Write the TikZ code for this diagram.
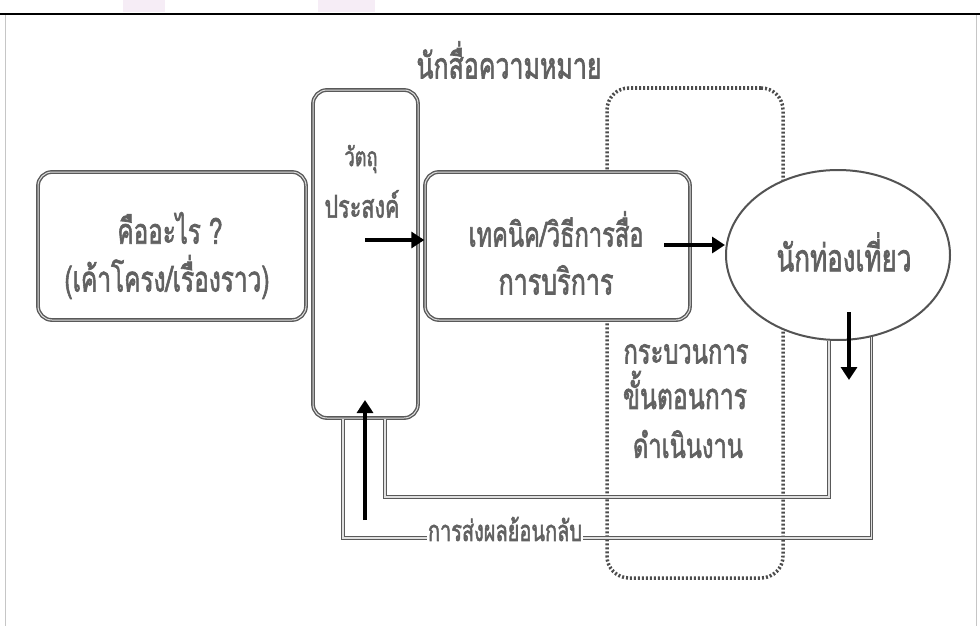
\documentclass[tikz,border=0pt]{standalone}
\usepackage{graphicx}
\usepackage{fontspec}
\newfontfamily\thai[Script=Thai,FakeBold=2.2]{Loma}
\usetikzlibrary{shapes.geometric,arrows.meta,calc}
\newcommand{\tx}[2]{\scalebox{1}[1.45]{\resizebox{#1pt}{!}{#2}}}
\begin{document}
\begin{tikzpicture}[x=1pt,y=-1pt,
  box/.style={draw=gray!70!black, line width=1.4pt, double=gray!25, double distance=1pt, rounded corners=14pt},
  txt/.style={font=\thai\fontsize{20}{20}\selectfont, text=black!62, align=center, inner sep=0pt},
  fb/.style={draw=gray!70!black, line width=1.1pt, double=gray!25, double distance=1.2pt},
  arr/.style={line width=4.5pt, black, -{Triangle[length=13pt,width=16pt]}},
  dotbox/.style={draw=gray!60!black, line width=3.5pt, dash pattern=on 2pt off 2pt, rounded corners=22pt}]
\useasboundingbox (0,0) rectangle (980,626);
% watermark blobs and frame
\fill[violet!7] (123,0) rectangle (165,12);
\fill[violet!7] (318,0) rectangle (375,12);
\draw[gray!45, line width=1pt] (5,14) rectangle (976,630);
\draw[black, line width=2.5pt] (0,14) -- (980,14);
% title
\node[txt] (title) at (509,60) {\tx{185}{นักสื่อความหมาย}};
% process (dotted) box
\node[dotbox, minimum width=176, minimum height=490] (proc) at (695,333) {};
\node[txt] (p1) at (686,354) {\tx{125}{กระบวนการ}};
\node[txt] (p2) at (685,390) {\tx{124}{ขั้นตอนการ}};
\node[txt] (p3) at (688,444) {\tx{110}{ดำเนินงาน}};
% boxes
\node[box, minimum width=268, minimum height=148] (what) at (172,246) {};
\node[txt] (w1) at (170,228) {\tx{105}{คืออะไร ?}};
\node[txt] (w2) at (167,277) {\tx{205}{(เค้าโครง/เรื่องราว)}};
\node[box, minimum width=105, minimum height=328] (obj) at (365.5,254) {};
\node[txt] (o1) at (361,159) {\tx{33}{วัตถุ}};
\node[txt] (o2) at (362,204) {\tx{75}{ประสงค์}};
\node[box, fill=white, minimum width=265, minimum height=148] (tech) at (557.5,246) {};
\node[txt] (t1) at (556,229) {\tx{175}{เทคนิค/วิธีการสื่อ}};
\node[txt] (t2) at (556,280) {\tx{115}{การบริการ}};
\node[ellipse, draw=gray!65!black, line width=2pt, fill=white, minimum width=224, minimum height=170, inner sep=0pt] (vis) at (838,255) {};
\node[txt] (vistxt) at (844,252) {\tx{135}{นักท่องเที่ยว}};
% forward arrows
\coordinate (a1) at (365,240);
\draw[arr] (a1) -- (a1 -| tech.west);
\coordinate (a2) at (664,245);
\draw[arr] (a2) -- (a2 -| vis.west);
% feedback loops
\coordinate (c1) at (385,497);
\coordinate (c2) at (343,538);
\draw[fb] (vis.264.6) |- (c1) -- (c1 |- obj.south);
\draw[fb] (vis.292.8) |- (c2) -- (c2 |- obj.south);
\coordinate (d1) at (849,312);
\draw[arr] (d1) -- ++(0,68);
\coordinate (u1) at (365,520);
\draw[arr] (u1) -- ++(0,-120);
\node[txt, fill=white, inner sep=1pt] (fbtxt) at (505,529) {\tx{154}{การส่งผลย้อนกลับ}};
\end{tikzpicture}
\end{document}
